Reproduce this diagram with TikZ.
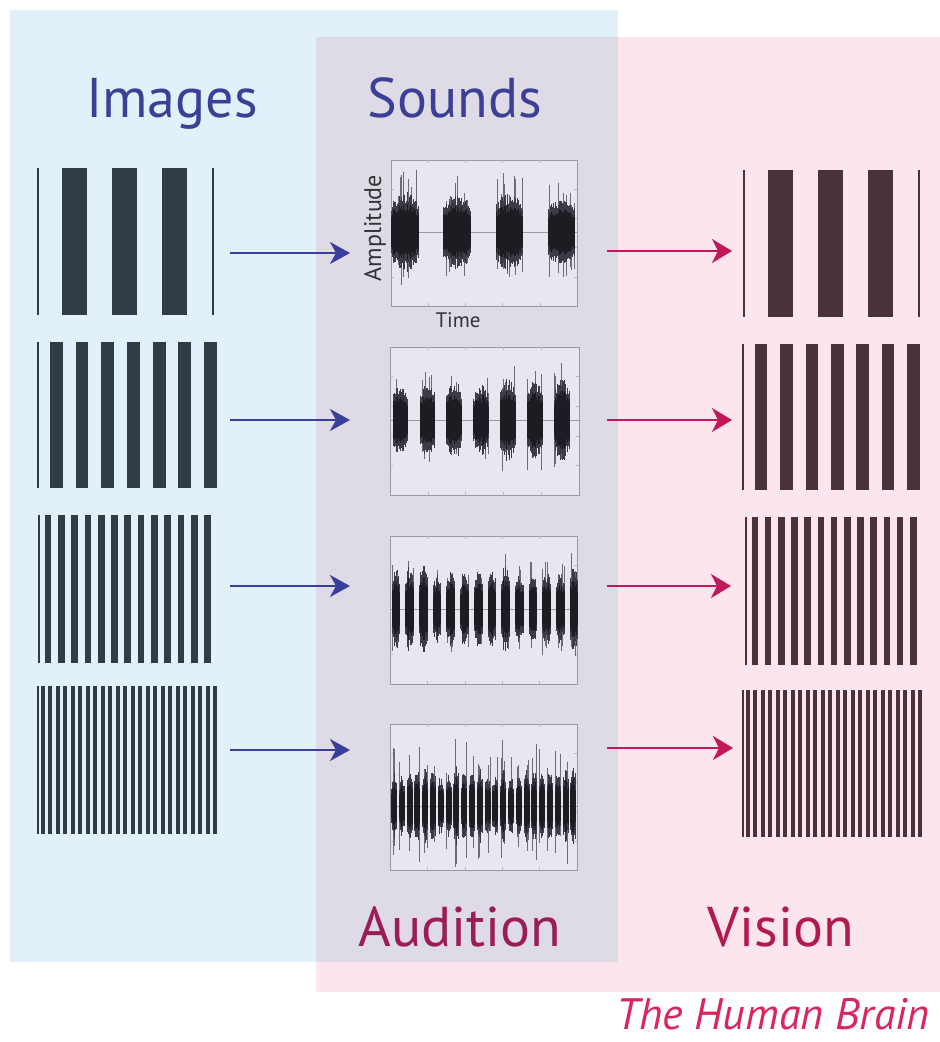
\documentclass[tikz,border=0pt]{standalone}
\usepackage{fontspec}
\setmainfont{PT Sans}
\usetikzlibrary{arrows.meta}
\definecolor{bgblue}{HTML}{E2F0F9}
\definecolor{bgpink}{HTML}{FCE5EC}
\definecolor{bgover}{HTML}{DEDBE7}
\definecolor{panelfill}{HTML}{E8E6EF}
\definecolor{panelline}{HTML}{9A98A2}
\definecolor{titleblue}{HTML}{3C3F95}
\definecolor{audcol}{HTML}{9B1D57}
\definecolor{viscol}{HTML}{B3184F}
\definecolor{braincol}{HTML}{D9265D}
\definecolor{leftbar}{HTML}{2F3C46}
\definecolor{rightbar}{HTML}{4A3239}
\definecolor{arrowblue}{HTML}{3A3E9C}
\definecolor{arrowpink}{HTML}{C2185B}
\definecolor{wavedark}{HTML}{1E1B22}
\definecolor{wavegray}{HTML}{3E3B45}
\definecolor{spikegray}{HTML}{6E6B75}
\tikzset{
  title/.style={font=\fontsize{56}{60}\selectfont, inner sep=0pt},
  gbox/.style={inner sep=0pt, outer sep=0pt},
  panel/.style={draw=panelline, line width=0.8pt, fill=panelfill, inner sep=0pt},
  barrow/.style={draw=arrowblue, line width=2.4pt, -{Stealth[length=20pt,width=22pt,inset=6pt]}},
  parrow/.style={draw=arrowpink, line width=2.4pt, -{Stealth[length=20pt,width=24pt,inset=6pt]}},
  outerline/.style={draw=wavegray, line width=0.8pt},
  innerline/.style={draw=wavedark, line width=0.8pt},
  spikeline/.style={draw=spikegray, line width=0.45pt},
  midline/.style={draw=panelline, line width=0.6pt},
  tickline/.style={draw=panelline!70, line width=0.5pt}
}
\newcommand\gbars[6]{% x0, ytop, ybot, period, n, colour
  \fill[#6] (#1,#2) rectangle ({#1+1.6},#3);
  \foreach \k in {1,...,#5}{
    \fill[#6] ({#1+(\k-0.5)*#4},#2) rectangle ({#1+\k*#4},#3);
  }
}
\newcommand\wavepanel[7]{% first centre, period, n, halfwidth, yc, amp, spike
  \pgfmathtruncatemacro\wM{2*#4/0.7}
  \foreach \k in {1,...,#3}{
    \pgfmathsetmacro\xc{#1+(\k-1)*#2}
    \pgfmathsetmacro\g{0.8+0.3*rnd}
    \foreach \i in {0,...,\wM}{
      \pgfmathsetmacro\xx{\xc-#4+\i*0.7}
      \pgfmathsetmacro\u{(\i*0.7-#4)/#4}
      \pgfmathsetmacro\a{#6*\g*(0.7+0.3*rnd)*(1-0.3*\u*\u)}
      \pgfmathsetmacro\r{rnd}
      \ifdim\r pt>0.8pt
        \pgfmathsetmacro\s{#7*\g*(0.5+0.5*rnd)}
        \pgfmathsetmacro\t{#7*\g*(0.4+0.5*rnd)}
        \draw[spikeline] (\xx,#5-\s) -- (\xx,#5+\t);
      \fi
      \draw[outerline] (\xx,#5-\a) -- (\xx,#5+\a);
      \draw[innerline] (\xx,#5-0.72*\a) -- (\xx,#5+0.72*\a);
    }
  }
}
\newcommand\ticks[4]{% x0,y0,x1,y1
  \foreach \f in {0.2,0.4,0.6,0.8}{
    \draw[tickline] ({#1+\f*(#3-#1)},#2) -- ++(0,3);
    \draw[tickline] ({#1+\f*(#3-#1)},#4) -- ++(0,-3);
    \draw[tickline] (#1,{#2+\f*(#4-#2)}) -- ++(3,0);
    \draw[tickline] (#3,{#2+\f*(#4-#2)}) -- ++(-3,0);
  }
}
\begin{document}
\begin{tikzpicture}[x=1pt,y=-1pt]
\pgfmathsetseed{7}
\useasboundingbox (0,0) rectangle (940,1042);
\fill[white] (0,0) rectangle (940,1042);
\fill[bgblue] (10,10) rectangle (618,962);
\fill[bgpink] (316,37) rectangle (940,992);
\fill[bgover] (316,37) rectangle (618,962);

% titles
\node[title, text=titleblue, anchor=base] (images) at (172,117) {Images};
\node[title, text=titleblue, anchor=base] (sounds) at (455,117) {Sounds};
\node[title, text=audcol, anchor=base] (audition) at (460,946) {Audition};
\node[title, text=viscol, anchor=base] (vision) at (781,946) {Vision};
\node[font=\fontsize{44}{50}\selectfont\itshape, text=braincol, anchor=base east, inner sep=0pt] (brain) at (930,1029) {The Human Brain};

% left gratings
\node[gbox, minimum width=177pt, minimum height=147pt] (L1) at (125.5,241.5) {};
\gbars{37}{168}{315}{50}{3}{leftbar}
\fill[leftbar] (212.4,168) rectangle (214,315);
\node[gbox, minimum width=180pt, minimum height=146pt] (L2) at (127,415) {};
\gbars{37}{342}{488}{25.7}{7}{leftbar}
\node[gbox, minimum width=173pt, minimum height=148pt] (L3) at (124.5,589) {};
\gbars{38}{515}{663}{13.3}{13}{leftbar}
\node[gbox, minimum width=180pt, minimum height=148pt] (L4) at (127,760) {};
\gbars{37}{686}{834}{7.5}{24}{leftbar}

% right gratings
\node[gbox, minimum width=177pt, minimum height=147pt] (R1) at (831.5,243.5) {};
\gbars{743}{170}{317}{50}{3}{rightbar}
\fill[rightbar] (918.4,170) rectangle (920,317);
\node[gbox, minimum width=178pt, minimum height=146pt] (R2) at (831,417) {};
\gbars{742}{344}{490}{25.4}{7}{rightbar}
\node[gbox, minimum width=172pt, minimum height=148pt] (R3) at (831,591) {};
\gbars{745}{517}{665}{13.2}{13}{rightbar}
\node[gbox, minimum width=180pt, minimum height=147pt] (R4) at (832,763.5) {};
\gbars{742}{690}{837}{7.5}{24}{rightbar}

% panels
\node[panel, minimum width=186pt, minimum height=146pt] (P1) at (484,233) {};
\node[panel, minimum width=189pt, minimum height=148pt] (P2) at (484.5,421) {};
\node[panel, minimum width=187pt, minimum height=148pt] (P3) at (483.5,610) {};
\node[panel, minimum width=187pt, minimum height=146pt] (P4) at (483.5,797) {};
\ticks{391}{160}{577}{306}
\ticks{390}{347}{579}{495}
\ticks{390}{536}{577}{684}
\ticks{390}{724}{577}{870}
\draw[midline] (P1.west |- 0,232) -- (P1.east |- 0,232);
\draw[midline] (P2.west |- 0,420) -- (P2.east |- 0,420);
\draw[midline] (P3.west |- 0,609) -- (P3.east |- 0,609);
\draw[midline] (P4.west |- 0,806) -- (P4.east |- 0,806);
\wavepanel{405}{52.2}{4}{13.5}{232}{38}{58}
\wavepanel{400.5}{26.9}{7}{7.5}{420}{38}{52}
\wavepanel{396}{13.7}{14}{4}{609}{42}{57}
\wavepanel{394}{7.8}{24}{2.6}{806}{36}{64}
\node[rotate=90, font=\fontsize{24}{28}\selectfont, text=black!80, inner sep=0pt] (amp) at (375,228) {Amplitude};
\node[font=\fontsize{21}{24}\selectfont, text=black!80, inner sep=0pt] (time) at (458,320) {Time};

% arrows
\coordinate (b1s) at (230,253); \coordinate (b1e) at (350,253);
\coordinate (b2s) at (230,420); \coordinate (b2e) at (350,420);
\coordinate (b3s) at (230,586); \coordinate (b3e) at (350,586);
\coordinate (b4s) at (230,750); \coordinate (b4e) at (350,750);
\coordinate (p1s) at (607,251); \coordinate (p1e) at (732,251);
\coordinate (p2s) at (607,420); \coordinate (p2e) at (732,420);
\coordinate (p3s) at (607,586); \coordinate (p3e) at (731,586);
\coordinate (p4s) at (607,748); \coordinate (p4e) at (733,748);
\draw[barrow] (b1s) -- (b1e);
\draw[barrow] (b2s) -- (b2e);
\draw[barrow] (b3s) -- (b3e);
\draw[barrow] (b4s) -- (b4e);
\draw[parrow] (p1s) -- (p1e);
\draw[parrow] (p2s) -- (p2e);
\draw[parrow] (p3s) -- (p3e);
\draw[parrow] (p4s) -- (p4e);
\end{tikzpicture}
\end{document}
